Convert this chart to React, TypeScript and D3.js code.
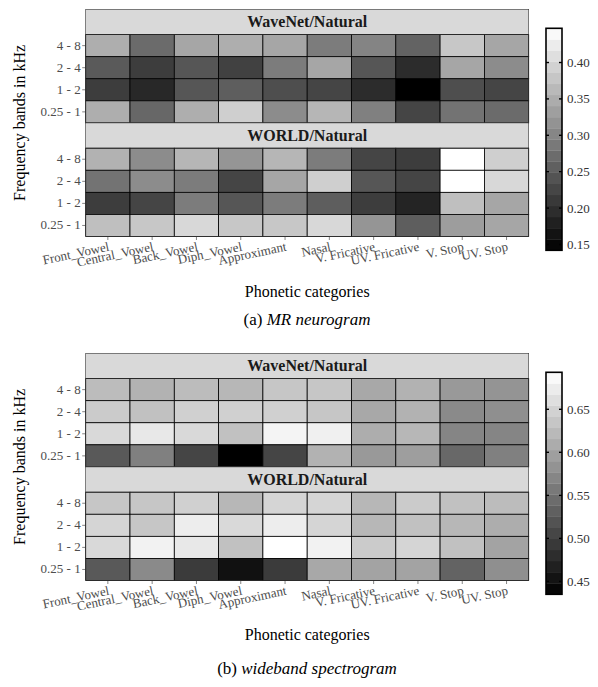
import React from 'react';
import * as d3 from 'd3';

const categories = ['Front_Vowel', 'Central_Vowel', 'Back_Vowel', 'Diph_Vowel', 'Approximant',
  'Nasal', 'V. Fricative', 'UV. Fricative', 'V. Stop', 'UV. Stop'];
const bands = ['4 - 8', '2 - 4', '1 - 2', '0.25 - 1'];
const facetNames = ['WaveNet/Natural', 'WORLD/Natural'];

// (a) MR neurogram, rows follow bands
const mrWaveNet = [
  [0.35, 0.27, 0.34, 0.35, 0.34, 0.29, 0.30, 0.26, 0.38, 0.34],
  [0.25, 0.215, 0.245, 0.22, 0.29, 0.34, 0.245, 0.195, 0.34, 0.31],
  [0.215, 0.19, 0.245, 0.255, 0.235, 0.225, 0.195, 0.142, 0.235, 0.225],
  [0.35, 0.265, 0.35, 0.39, 0.31, 0.36, 0.295, 0.225, 0.28, 0.27],
];
const mrWorld = [
  [0.355, 0.31, 0.36, 0.32, 0.36, 0.29, 0.225, 0.215, 0.447, 0.39],
  [0.28, 0.31, 0.29, 0.225, 0.34, 0.39, 0.245, 0.225, 0.447, 0.40],
  [0.215, 0.225, 0.29, 0.245, 0.29, 0.255, 0.215, 0.185, 0.37, 0.34],
  [0.37, 0.38, 0.40, 0.38, 0.38, 0.40, 0.32, 0.255, 0.33, 0.34],
];
const mrDomain = [0.142, 0.447];
const mrTicks = [0.15, 0.2, 0.25, 0.3, 0.35, 0.4];

// (b) wideband spectrogram
const wbWaveNet = [
  [0.625, 0.615, 0.625, 0.62, 0.635, 0.635, 0.605, 0.615, 0.59, 0.585],
  [0.64, 0.63, 0.645, 0.645, 0.645, 0.635, 0.605, 0.615, 0.575, 0.58],
  [0.655, 0.67, 0.655, 0.63, 0.682, 0.678, 0.61, 0.62, 0.57, 0.57],
  [0.525, 0.565, 0.505, 0.435, 0.505, 0.615, 0.59, 0.595, 0.54, 0.565],
];
const wbWorld = [
  [0.635, 0.635, 0.645, 0.62, 0.65, 0.65, 0.62, 0.64, 0.63, 0.625],
  [0.65, 0.635, 0.675, 0.655, 0.675, 0.65, 0.62, 0.63, 0.62, 0.61],
  [0.655, 0.68, 0.67, 0.63, 0.693, 0.68, 0.64, 0.65, 0.63, 0.60],
  [0.525, 0.575, 0.495, 0.452, 0.495, 0.605, 0.60, 0.60, 0.535, 0.58],
];
const wbDomain = [0.435, 0.693];
const wbTicks = [0.45, 0.5, 0.55, 0.6, 0.65];

const serif = "'Liberation Serif', 'Times New Roman', serif";
const left = 85.7;
const right = 528.7;
const stripH = 25.3;
const rowsH = 88.3;

function Panel({ top, facets, domain, ticks, label, title, xTitleY, captionY }) {
  const x = d3.scaleBand().domain(categories).range([left, right]);
  const fill = d3.scaleSequential(d3.interpolateRgb('#000000', '#ffffff')).domain(domain);
  const bottom = top + 2 * (stripH + rowsH);
  const mid = (top + bottom) / 2;

  // colour bar
  const cbTop = top + 19;
  const cbBottom = top + 241;
  const cbX = 546;
  const cbW = 16;
  const cb = d3.scaleLinear().domain(domain).range([cbBottom, cbTop]);
  const bins = d3.range(20).map((i) => domain[0] + (i / 20) * (domain[1] - domain[0]));
  const binStep = (domain[1] - domain[0]) / 20;

  return (
    <g>
      {facets.map((vals, fi) => {
        const fTop = top + fi * (stripH + rowsH);
        const y = d3.scaleBand().domain(bands).range([fTop + stripH, fTop + stripH + rowsH]);
        return (
          <g key={fi}>
            <rect x={left} y={fTop} width={right - left} height={stripH}
              fill="#d9d9d9" stroke="#333" strokeWidth={0.6} />
            <text x={(left + right) / 2} y={fTop + stripH / 2 + 5.5} textAnchor="middle"
              fontFamily={serif} fontWeight="bold" fontSize={16} fill="#1a1a1a">
              {facetNames[fi]}
            </text>
            {bands.map((b, ri) => categories.map((c, ci) => (
              <rect key={b + c} x={x(c)} y={y(b)} width={x.bandwidth()} height={y.bandwidth()}
                fill={fill(vals[ri][ci])} stroke="#000" strokeWidth={0.8} />
            )))}
            <rect x={left} y={fTop + stripH} width={right - left} height={rowsH}
              fill="none" stroke="#333" strokeWidth={0.6} />
            {bands.map((b) => (
              <g key={b}>
                <line x1={left - 3.5} x2={left} y1={y(b) + y.bandwidth() / 2} y2={y(b) + y.bandwidth() / 2}
                  stroke="#333" strokeWidth={0.6} />
                <text x={left - 5} y={y(b) + y.bandwidth() / 2 + 4} textAnchor="end"
                  fontFamily={serif} fontSize={13} fill="#4d4d4d">{b}</text>
              </g>
            ))}
          </g>
        );
      })}
      {categories.map((c) => {
        const cx = x(c) + x.bandwidth() / 2;
        return (
          <g key={c}>
            <line x1={cx} x2={cx} y1={bottom} y2={bottom + 3.5} stroke="#333" strokeWidth={0.6} />
            <text transform={`translate(${cx + 2},${bottom + 14}) rotate(-12)`} textAnchor="end"
              fontFamily={serif} fontSize={13} fill="#4d4d4d">{c}</text>
          </g>
        );
      })}
      <text transform={`translate(25,${mid}) rotate(-90)`} textAnchor="middle"
        fontFamily={serif} fontSize={16} fill="#000">Frequency bands in kHz</text>
      <text x={(left + right) / 2} y={xTitleY} textAnchor="middle"
        fontFamily={serif} fontSize={16} fill="#000">Phonetic categories</text>
      <text x={307} y={captionY} textAnchor="middle" fontFamily={serif} fontSize={17} fill="#000">
        <tspan>{label} </tspan>
        <tspan fontStyle="italic">{title}</tspan>
      </text>

      {bins.map((v) => (
        <rect key={v} x={cbX} y={cb(v + binStep)} width={cbW} height={cb(v) - cb(v + binStep) + 0.3}
          fill={fill(v + binStep / 2)} />
      ))}
      {ticks.map((t) => (
        <g key={t}>
          <line x1={cbX} x2={cbX + 3} y1={cb(t)} y2={cb(t)} stroke="#000" strokeWidth={1.4} />
          <line x1={cbX + cbW - 3} x2={cbX + cbW} y1={cb(t)} y2={cb(t)} stroke="#000" strokeWidth={1.4} />
          <text x={cbX + cbW + 5} y={cb(t) + 4.5} fontFamily={serif} fontSize={13} fill="#333">
            {t.toFixed(2)}
          </text>
        </g>
      ))}
      <rect x={cbX} y={cbTop} width={cbW} height={cbBottom - cbTop} fill="none" stroke="#000" strokeWidth={1.6} />
    </g>
  );
}

export default function App() {
  return (
    <svg width={598} height={687} style={{ position: 'absolute', left: 0, top: 0, background: '#fff' }}>
      <Panel top={9.3} facets={[mrWaveNet, mrWorld]} domain={mrDomain} ticks={mrTicks}
        label="(a)" title="MR neurogram" xTitleY={297} captionY={325} />
      <Panel top={353.3} facets={[wbWaveNet, wbWorld]} domain={wbDomain} ticks={wbTicks}
        label="(b)" title="wideband spectrogram" xTitleY={640} captionY={674} />
    </svg>
  );
}
